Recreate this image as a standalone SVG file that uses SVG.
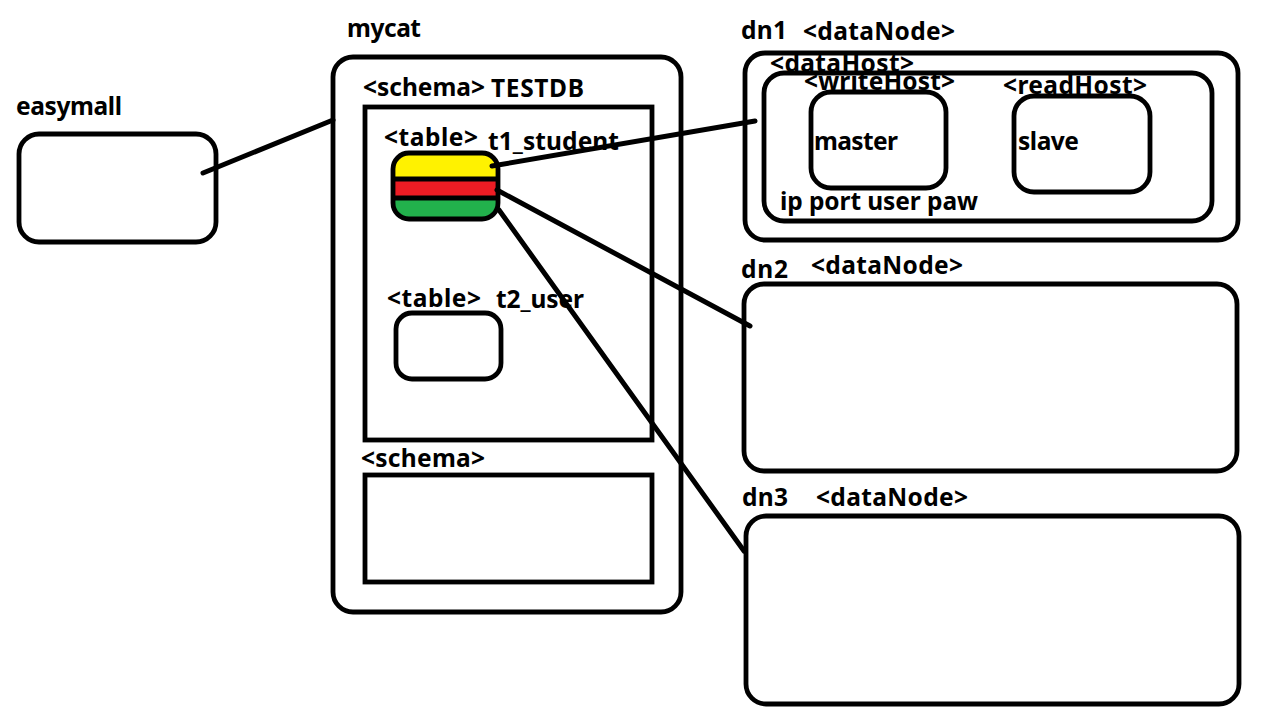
<svg xmlns="http://www.w3.org/2000/svg" width="1261" height="723" viewBox="0 0 1261 723">
<style>
.b{fill:none;stroke:#000;stroke-width:4.8}
.t{font-family:"Noto Sans","DejaVu Sans",sans-serif;font-weight:700;font-size:24.5px;fill:#000}
.c{fill:none;stroke:#000;stroke-width:5;stroke-linecap:round}
</style>
<rect width="1261" height="723" fill="#fff"/>
<g id="easymall"><text class="t" x="16" y="115" textLength="106">easymall</text><rect class="b" x="19" y="134" width="197" height="108" rx="20"/></g>
<g id="mycat"><text class="t" x="347" y="37" textLength="74">mycat</text><rect class="b" x="333" y="57" width="348" height="555" rx="20"/></g>
<g id="schema1"><text class="t" x="363" y="96" textLength="122">&lt;schema&gt;</text><text class="t" x="491" y="97" textLength="93">TESTDB</text><rect class="b" x="365" y="107" width="287" height="333"/></g>
<g id="t1"><text class="t" x="384" y="146" textLength="94">&lt;table&gt;</text><text class="t" x="488" y="150" textLength="131">t1_student</text><rect x="393" y="153" width="105" height="66" rx="16" fill="#fff200"/><path d="M393 180H498V198H393Z" fill="#ed1c24"/><path d="M393 198H498V203A16 16 0 0 1 482 219H409A16 16 0 0 1 393 203Z" fill="#22b14c"/><path class="b" d="M393 179H498M393 198H498"/><rect class="b" x="393" y="153" width="105" height="66" rx="16"/></g>
<g id="t2"><text class="t" x="387" y="307" textLength="94">&lt;table&gt;</text><text class="t" x="496" y="308" textLength="88">t2_user</text><rect class="b" x="396" y="313" width="105" height="66" rx="16"/></g>
<g id="schema2"><text class="t" x="361" y="467" textLength="124">&lt;schema&gt;</text><rect class="b" x="365" y="475" width="287" height="107"/></g>
<g id="dn1"><text class="t" x="741" y="39" textLength="46">dn1</text><text class="t" x="803" y="40" textLength="152">&lt;dataNode&gt;</text><rect class="b" x="745" y="53" width="493" height="187" rx="20"/></g>
<g id="dataHost"><text class="t" x="770" y="72" textLength="144">&lt;dataHost&gt;</text><text class="t" x="780" y="210" textLength="198">ip port user paw</text><rect class="b" x="764" y="73" width="448" height="148" rx="20"/></g>
<g id="master"><text class="t" x="804" y="90" textLength="151">&lt;writeHost&gt;</text><text class="t" x="814" y="150" textLength="84">master</text><rect class="b" x="811" y="92" width="135" height="96" rx="20"/></g>
<g id="slave"><text class="t" x="1003" y="94" textLength="144">&lt;readHost&gt;</text><text class="t" x="1018" y="150" textLength="61">slave</text><rect class="b" x="1014" y="96" width="136" height="96" rx="20"/></g>
<g id="dn2"><text class="t" x="741" y="278" textLength="47">dn2</text><text class="t" x="811" y="274" textLength="152">&lt;dataNode&gt;</text><rect class="b" x="744" y="284" width="493" height="187" rx="20"/></g>
<g id="dn3"><text class="t" x="742" y="506" textLength="46">dn3</text><text class="t" x="816" y="506" textLength="152">&lt;dataNode&gt;</text><rect class="b" x="746" y="516" width="493" height="188" rx="20"/></g>
<g id="connectors"><path class="c" d="M203 173L333 120M492 166L755 121M497 190L750 326M499 210L744 551"/></g>
</svg>
